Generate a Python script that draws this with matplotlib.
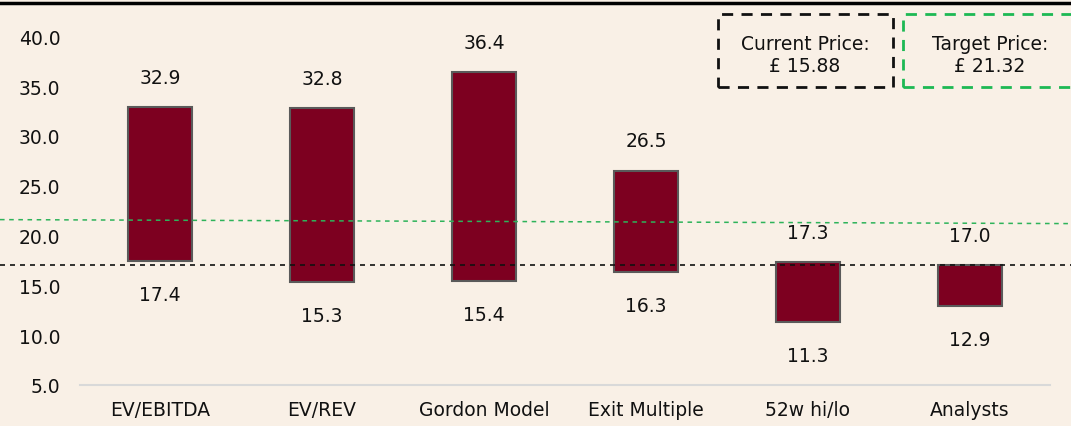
import matplotlib.pyplot as plt
from matplotlib.lines import Line2D
from matplotlib.patches import Rectangle

# dados do grafico
metodos = ['EV/EBITDA', 'EV/REV', 'Gordon Model', 'Exit Multiple', '52w hi/lo', 'Analysts']
baixo = [17.4, 15.3, 15.4, 16.3, 11.3, 12.9]
alto = [32.9, 32.8, 36.4, 26.5, 17.3, 17.0]
preco_atual = 15.88
preco_alvo = 21.32
linha_atual = 17.05          # posicao desenhada da linha preta
linha_alvo = (21.6, 21.2)    # linha verde levemente inclinada (esq, dir)

fundo = '#F9F0E6'
vinho = '#7D0020'
fs = 13.5

plt.rcParams['font.family'] = 'DejaVu Sans'
fig = plt.figure(figsize=(10.71, 4.27), dpi=100, facecolor=fundo)
W, H = 1071, 427
ax = fig.add_axes([80 / W, (H - 386) / H, 970 / W, 386 / H])
ax.set_facecolor(fundo)

x = range(len(metodos))
alturas = [a - b for a, b in zip(alto, baixo)]
ax.bar(x, alturas, bottom=baixo, width=0.4, color=vinho, edgecolor='#5a5a5a', linewidth=1.5, zorder=2)

for i in x:
    ax.annotate(f'{alto[i]:.1f}', (i, alto[i]), xytext=(0, 21.5), textcoords='offset points',
                ha='center', va='center', fontsize=fs, color='#111111')
    ax.annotate(f'{baixo[i]:.1f}', (i, baixo[i]), xytext=(0, -24), textcoords='offset points',
                ha='center', va='center', fontsize=fs, color='#111111')

ax.set_xlim(-0.494, 5.494)
ax.set_ylim(5, 5 + 386 / 9.963)
ax.set_yticks([5, 10, 15, 20, 25, 30, 35, 40])
ax.set_yticklabels([f'{v:.1f}' for v in [5, 10, 15, 20, 25, 30, 35, 40]])
ax.set_xticks(list(x))
ax.set_xticklabels(metodos)
ax.tick_params(axis='y', length=0, pad=14, labelsize=fs, labelcolor='#111111')
ax.tick_params(axis='x', length=0, pad=11, labelsize=fs, labelcolor='#111111')
for s in ['top', 'right', 'left']:
    ax.spines[s].set_visible(False)
ax.spines['bottom'].set_color('#d9d9d9')
ax.spines['bottom'].set_linewidth(1.5)

# linhas tracejadas (preco atual e alvo) de ponta a ponta
x0 = -0.494 - 80 / 162
x1 = 5.494 + 21 / 162
ax.plot([x0, x1], [linha_atual, linha_atual], ls=(0, (3, 3)), color='#111111', lw=1.2,
        clip_on=False, zorder=3)
ax.plot([x0, x1], list(linha_alvo), ls=(0, (3, 3)), color='#2eb35a', lw=1.1,
        clip_on=False, zorder=3)

# linha preta no topo
fig.add_artist(Line2D([0, 1], [1 - 3.5 / H, 1 - 3.5 / H], color='black', lw=2.5))

# caixas de preco
fig.add_artist(Rectangle((718 / W, (H - 88) / H), 175 / W, 73 / H, fill=False,
                         ec='#111111', lw=2, ls=(0, (4, 3))))
fig.add_artist(Rectangle((903 / W, (H - 88) / H), 180 / W, 73 / H, fill=False,
                         ec='#1db954', lw=2, ls=(0, (4, 3))))
fig.text(805 / W, 1 - 44 / H, 'Current Price:', ha='center', va='center', fontsize=fs, color='#111111')
fig.text(805 / W, 1 - 67 / H, f'£ {preco_atual:.2f}', ha='center', va='center', fontsize=fs, color='#111111')
fig.text(990 / W, 1 - 44 / H, 'Target Price:', ha='center', va='center', fontsize=fs, color='#111111')
fig.text(990 / W, 1 - 67 / H, f'£ {preco_alvo:.2f}', ha='center', va='center', fontsize=fs, color='#111111')

fig.savefig('out.png', dpi=100, facecolor=fundo)
